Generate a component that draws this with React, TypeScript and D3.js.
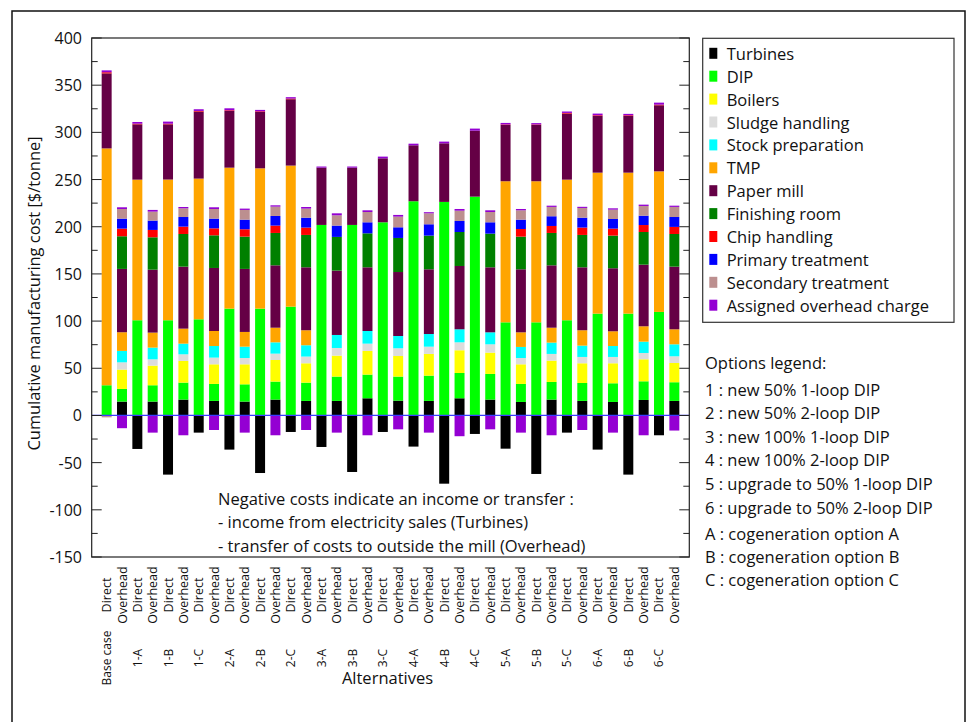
import React from "react";
import * as d3 from "d3";

const groups = ["Base case","1-A","1-B","1-C","2-A","2-B","2-C","3-A","3-B","3-C","4-A","4-B","4-C","5-A","5-B","5-C","6-A","6-B","6-C"];
const barTypes = ["Direct","Overhead"];

const seriesNames = ["Turbines","DIP","Boilers","Sludge handling","Stock preparation","TMP","Paper mill","Finishing room","Chip handling","Primary treatment","Secondary treatment","Assigned overhead charge"];
const seriesColors = ["#000000","#00ff00","#ffff00","#dcdcdc","#00ffff","#ffa500","#650045","#008000","#ff0000","#0000ff","#bc8f8f","#9400d3"];

// one value per bar: Direct, Overhead for each group in order
const turbines = [0,14.7, -35.5,14.7, -62.7,16.8, -18.2,15.4, -36.2,14.7, -61,16.8, -17.5,15.4, -33.4,15.4, -59.9,18.2, -17.5,15.7, -33,15.4, -72.3,18.2, -19.6,16.8, -35.2,14.3, -62,16.8, -18.2,15.4, -36.2,14.3, -62.7,16.4, -21,15.4];
const dip = [32,13.4, 100.9,17.3, 100.9,18.0, 101.9,18.0, 113.2,18.3, 113.2,19.1, 115.3,19.4, 201.9,25.8, 201.9,25.1, 204.7,25.5, 227,26.8, 226.3,26.8, 231.9,27.2, 98.7,19.1, 98.7,18.7, 100.9,19.0, 107.9,19.8, 107.9,19.8, 109.7,19.8];
const boilers = [0,20.5, 0,20.8, 0,23.0, 0,20.8, 0,21.2, 0,22.9, 0,20.5, 0,22.2, 0,25.1, 0,21.8, 0,23.0, 0,24.1, 0,22.6, 0,20.8, 0,22.6, 0,20.9, 0,21.2, 0,23.3, 0,20.4];
const sludge = [0,7.7, 0,6.7, 0,7.0, 0,7.1, 0,6.7, 0,6.7, 0,7.1, 0,8.1, 0,7.7, 0,8.2, 0,7.7, 0,8.4, 0,8.8, 0,6.7, 0,7.1, 0,6.7, 0,6.7, 0,6.7, 0,7.1];
const stockPrep = [0,12.1, 0,12.4, 0,11.3, 0,12.3, 0,12.0, 0,12.0, 0,12.0, 0,13.8, 0,13.4, 0,13.0, 0,13.4, 0,13.8, 0,12.7, 0,11.7, 0,12.0, 0,12.0, 0,11.6, 0,12.0, 0,12.7];
const tmp = [251,19.8, 149,15.9, 149.1,15.9, 149.1,15.9, 149.4,15.6, 148.7,15.5, 149.5,15.9, 0,0, 0,0, 0,0, 0,0, 0,0, 0,0, 149.5,15.5, 149.5,15.8, 149,16.3, 149.4,15.6, 149.4,16.3, 149,15.9];
const paperMill = [79.5,67.1, 58.6,66.7, 58.5,65.7, 71,66.8, 60.1,66.8, 59.7,66.1, 70.3,66.7, 60.7,68.2, 60.7,67.5, 67.8,67.8, 59.3,68.6, 62.1,67.1, 69.9,68.9, 59.7,66.8, 59.7,66.1, 70,66.7, 60.1,66.8, 60.1,65.3, 70,66.4];
const finishing = [0,34.6, 0,34.3, 0,34.6, 0,34.6, 0,34.2, 0,34.3, 0,34.3, 0,35.7, 0,36.0, 0,36.1, 0,35.7, 0,36.0, 0,35.7, 0,34.6, 0,34.3, 0,34.3, 0,34.6, 0,34.6, 0,34.6];
const chip = [1.2,8.1, 0.7,7.8, 0.7,7.8, 0.7,7.4, 0.7,7.8, 0.7,7.8, 0.7,7.8, 0,0, 0,0, 0,0, 0,0, 0,0, 0,0, 0.5,8.1, 0.5,7.4, 0.7,7.8, 0.7,7.4, 0.7,7.4, 0.7,7.5];
const primary = [0,10.6, 0,9.9, 0,10.2, 0,10.3, 0,10.2, 0,10.2, 0,10.5, 0,12.0, 0,11.7, 0,11.3, 0,12.0, 0,11.7, 0,12.0, 0,9.9, 0,10.3, 0,10.5, 0,10.2, 0,9.9, 0,10.5];
const secondary = [-2,10.2, 0,9.5, 0,9.2, 0,10.2, 0,10.3, 0,9.9, 0,9.6, 0,10.9, 0,10.9, 0,11.3, 0,11.6, 0,10.9, 0,10.9, 0,9.9, 0,9.9, 0,10.3, 0,9.9, 0,10.3, 0,10.7];
const overheadCharge = [2.0,1.8, 1.8,1.8, 2.2,1.4, 1.8,1.8, 2.1,1.4, 1.5,1.4, 1.5,1.7, 1.2,2.1, 1.2,1.8, 1.8,1.8, 1.7,1.2, 1.8,1.8, 2.2,1.8, 1.6,1.4, 1.4,1.3, 1.5,1.2, 1.8,1.4, 1.5,1.4, 2.1,1.3];
const overheadTransfer = [0,-13.5, 0,-18.2, 0,-21, 0,-15.4, 0,-18.2, 0,-21, 0,-15.4, 0,-18.2, 0,-21, 0,-14.7, 0,-18.2, 0,-22, 0,-14.7, 0,-18.2, 0,-21, 0,-15.4, 0,-18.2, 0,-21, 0,-16];

const yTickValues = [-150,-125,-100,-75,-50,-25,0,25,50,75,100,125,150,175,200,225,250,275,300,325,350,375,400];

const noteLines = ["Negative costs indicate an income or transfer :", "- income from electricity sales (Turbines)", "- transfer of costs to outside the mill (Overhead)"];
const optionLines = ["1 : new 50% 1-loop DIP","2 : new 50% 2-loop DIP","3 : new 100% 1-loop DIP","4 : new 100% 2-loop DIP","5 : upgrade to 50% 1-loop DIP","6 : upgrade to 50% 2-loop DIP"];
const cogenLines = ["A : cogeneration option A","B : cogeneration option B","C : cogeneration option C"];

const FONT = "'Open Sans', 'Noto Sans', sans-serif";

export default function App() {
  const W = 967, H = 722;
  const left = 91.7, right = 689.3, top = 38, bottom = 557;
  const nBars = groups.length * 2;
  const idx = d3.range(nBars);
  const x = d3.scaleBand<number>().domain(idx).range([left, right]).paddingInner(0.35).paddingOuter(0.65);
  const y = d3.scaleLinear().domain([-150, 400]).range([bottom, top]);

  const keys = ["turbines","dip","boilers","sludge","stock","tmp","paper","finishing","chip","primary","secondary","ohPos","ohNeg"];
  const keyColor: Record<string,string> = {
    turbines: seriesColors[0], dip: seriesColors[1], boilers: seriesColors[2], sludge: seriesColors[3], stock: seriesColors[4],
    tmp: seriesColors[5], paper: seriesColors[6], finishing: seriesColors[7], chip: seriesColors[8], primary: seriesColors[9],
    secondary: seriesColors[10], ohPos: seriesColors[11], ohNeg: seriesColors[11],
  };
  const table = idx.map(i => ({
    turbines: turbines[i], dip: dip[i], boilers: boilers[i], sludge: sludge[i], stock: stockPrep[i], tmp: tmp[i],
    paper: paperMill[i], finishing: finishing[i], chip: chip[i], primary: primary[i], secondary: secondary[i],
    ohPos: overheadCharge[i], ohNeg: overheadTransfer[i],
  }));
  const stacked = d3.stack<any>().keys(keys).offset(d3.stackOffsetDiverging)(table);

  const legendY0 = 53.3, legendStep = 22.9;

  return (
    <svg width={W} height={H} style={{ position: "absolute", left: 0, top: 0, background: "#fff" }} fontFamily={FONT}>
      <rect x={0} y={0} width={W} height={H} fill="#fff" />
      <rect x={12} y={11} width={953} height={730} fill="none" stroke="#111" strokeWidth={1.5} />

      {/* bars */}
      {stacked.map(s => (
        <g key={s.key} fill={keyColor[s.key]}>
          {s.map((d, i) => {
            const y0 = y(d[0]), y1 = y(d[1]);
            const h = Math.abs(y0 - y1);
            if (h < 0.01) return null;
            return <rect key={i} x={x(i)} y={Math.min(y0, y1)} width={x.bandwidth()} height={h} />;
          })}
        </g>
      ))}

      {/* zero line */}
      <line x1={left} x2={right} y1={y(0)} y2={y(0)} stroke="#3a3aff" strokeWidth={1.2} />

      {/* plot frame */}
      <rect x={left} y={top} width={right - left} height={bottom - top} fill="none" stroke="#222" strokeWidth={1.2} />

      {/* ticks */}
      {yTickValues.map(v => {
        const major = v % 50 === 0;
        const len = major ? 10 : 6;
        return (
          <g key={v}>
            <line x1={left} x2={left + len} y1={y(v)} y2={y(v)} stroke="#222" strokeWidth={1} />
            <line x1={right} x2={right - len} y1={y(v)} y2={y(v)} stroke="#222" strokeWidth={1} />
            {major && (
              <text x={82} y={y(v)} textAnchor="end" dominantBaseline="central" fontSize={16} fill="#111">{v}</text>
            )}
          </g>
        );
      })}

      {/* y axis title */}
      <text transform={`translate(40,${(top + bottom) / 2 - 4}) rotate(-90)`} textAnchor="middle" fontSize={16.4} fill="#111">
        Cumulative manufacturing cost [$/tonne]
      </text>

      {/* x bar labels */}
      {idx.map(i => (
        <text key={i} transform={`translate(${x(i)! + x.bandwidth() / 2},595) rotate(-90)`} textAnchor="middle"
          dominantBaseline="central" fontSize={12.5} fill="#111">{barTypes[i % 2]}</text>
      ))}
      {groups.map((g, gi) => (
        <text key={g} transform={`translate(${x(gi * 2)! + x.bandwidth() / 2},658) rotate(-90)`} textAnchor="middle"
          dominantBaseline="central" fontSize={12} fill="#111">{g}</text>
      ))}
      <text x={(left + right) / 2 - 3} y={677} textAnchor="middle" dominantBaseline="central" fontSize={16.5} fill="#111">Alternatives</text>

      {/* note */}
      {noteLines.map((t, i) => (
        <text key={i} x={218} y={498 + i * 23.5} dominantBaseline="central" fontSize={16.5} fill="#111">{t}</text>
      ))}

      {/* series legend */}
      <rect x={702.7} y={38.3} width={251.3} height={284} fill="#fff" stroke="#333" strokeWidth={1.2} />
      {seriesNames.map((n, i) => (
        <g key={n}>
          <rect x={709.3} y={legendY0 + i * legendStep - 5.5} width={8} height={11} fill={seriesColors[i]} />
          <text x={726.7} y={legendY0 + i * legendStep} dominantBaseline="central" fontSize={16.5} fill="#111">{n}</text>
        </g>
      ))}

      {/* options legend */}
      <text x={705} y={362} dominantBaseline="central" fontSize={16.5} fill="#111">Options legend:</text>
      {optionLines.map((t, i) => (
        <text key={t} x={705} y={389 + i * 23.6} dominantBaseline="central" fontSize={16.5} fill="#111">{t}</text>
      ))}
      {cogenLines.map((t, i) => (
        <text key={t} x={705} y={533 + i * 23} dominantBaseline="central" fontSize={16.5} fill="#111">{t}</text>
      ))}
    </svg>
  );
}
